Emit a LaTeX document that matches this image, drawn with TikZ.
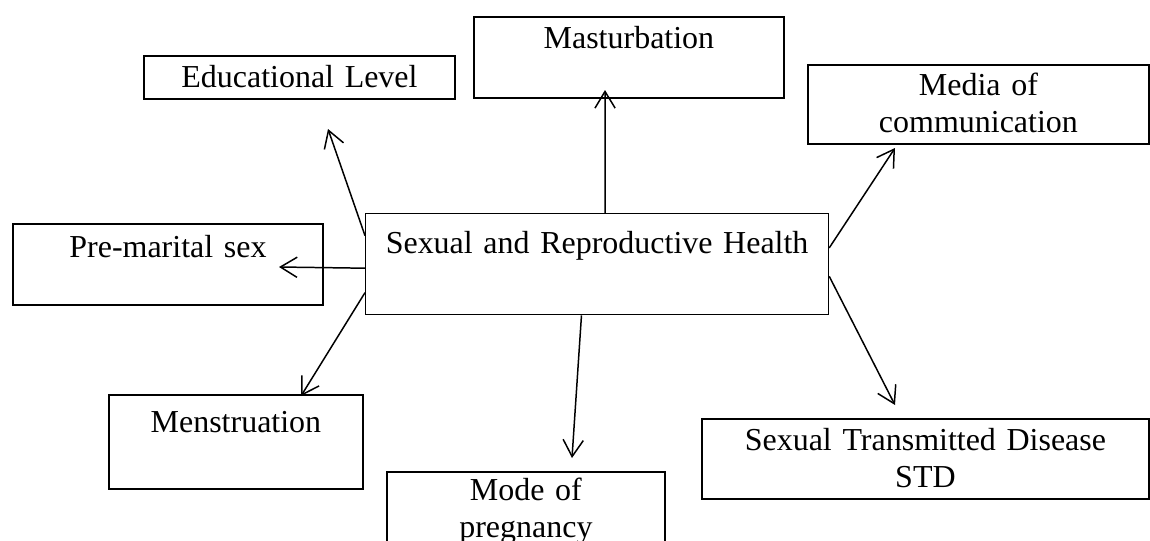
\documentclass[tikz,border=0pt]{standalone}
\usepackage{fontspec}
\setmainfont{Liberation Serif}
\usetikzlibrary{arrows.meta}
\tikzset{
  box/.style={draw, line width=1.1pt, inner sep=0pt, align=center, anchor=north west,
    font=\fontsize{18.2}{21}\selectfont},
  link/.style={line width=0.85pt, -{Straight Barb[length=9.5pt,width=11.5pt]}}
}
\begin{document}
\begin{tikzpicture}[x=0.02cm, y=-0.02cm]
\useasboundingbox (0,0) rectangle (1150,541);
\clip (0,0) rectangle (1150,541);
% boxes
\node[box, line width=0.75pt, text width=9.26cm, text height=0.8cm, text depth=1.22cm] (srh) at (365,213) {Sexual and Reproductive Health};
\node[box, text width=6.22cm, text height=0.64cm, text depth=0.22cm] (edu) at (143,55) {Educational Level};
\node[box, text width=6.2cm, text height=0.64cm, text depth=0.98cm] (mas) at (473,16) {Masturbation};
\node[box, text width=6.82cm, text height=0.62cm, text depth=0.96cm] (med) at (807,64) {Media of\\communication};
\node[box, text width=6.2cm, text height=0.68cm, text depth=0.94cm] (pms) at (12,223) {Pre-marital sex};
\node[box, text width=5.08cm, text height=0.76cm, text depth=1.12cm] (men) at (108,394) {Menstruation};
\node[box, text width=5.56cm, text height=0.58cm, text depth=1.8cm] (mod) at (386,471) {Mode of\\pregnancy};
\node[box, text width=8.94cm, text height=0.64cm, text depth=0.96cm] (std) at (701,418) {Sexual Transmitted Disease\\STD};
% arrow ends
\coordinate (edutip) at (328,129);
\coordinate (mastip) at (605,90);
\coordinate (medtip) at (895,148);
\coordinate (pmstip) at (279,267);
\coordinate (mentip) at (301,396);
\coordinate (modtip) at (572,458);
\coordinate (stdtip) at (895,405);
% arrows
\draw[link] (srh.173.5) -- (edutip);
\draw[link] (srh.81.5) -- (mastip);
\draw[link] (srh.4.5) -- (medtip);
\draw[link] (srh.181) -- (pmstip);
\draw[link] (srh.187) -- (mentip);
\draw[link] (srh.253) -- (modtip);
\draw[link] (srh.357.2) -- (stdtip);
\end{tikzpicture}
\end{document}
